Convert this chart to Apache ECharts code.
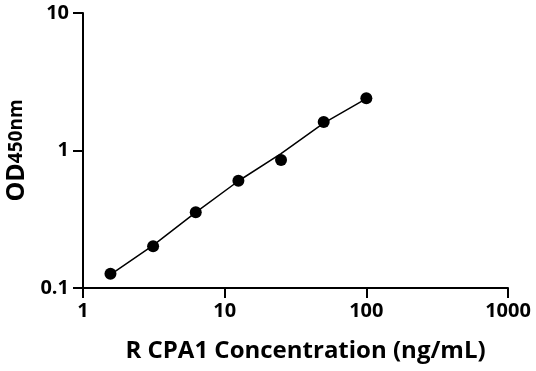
<!DOCTYPE html>
<html><head><meta charset="utf-8">
<script src="https://cdn.jsdelivr.net/npm/echarts@6/dist/echarts.min.js"></script>
<style>html,body{margin:0;padding:0;background:#fff}#c{width:536px;height:371px}</style>
</head><body><div id="c"></div>
<script>
const concentrations = [1.5625, 3.125, 6.25, 12.5, 25, 50, 100];
const odValues = [0.127, 0.201, 0.355, 0.603, 0.853, 1.61, 2.40];
const fitValues = [0.125, 0.204, 0.355, 0.600, 0.95, 1.58, 2.38];
const xTicks = [1, 10, 100, 1000];
const yTicks = [0.1, 1, 10];
const xTitle = 'R CPA1 Concentration (ng/mL)';

const FONT = '"Open Sans", sans-serif';
const chart = echarts.init(document.getElementById('c'));
chart.setOption({
  animation: false,
  grid: {left: 83, right: 28, top: 13, bottom: 83, containLabel: false, outerBoundsMode: 'none'},
  xAxis: {
    type: 'log', logBase: 10, min: xTicks[0], max: xTicks[xTicks.length-1],
    name: xTitle, nameLocation: 'middle', nameGap: 51,
    nameTextStyle: {fontFamily: FONT, fontWeight: 'bold', fontSize: 24, color: '#000', padding: [0,0,0,20]},
    axisLine: {lineStyle: {color: '#000', width: 2}},
    axisTick: {length: 10, lineStyle: {color: '#000', width: 2}},
    minorTick: {show: false},
    axisLabel: {fontFamily: FONT, fontWeight: 'bold', fontSize: 20, color: '#000', margin: 13,
      formatter: v => String(v)},
    splitLine: {show: false}
  },
  yAxis: {
    type: 'log', logBase: 10, min: yTicks[0], max: yTicks[yTicks.length-1],
    name: '{a|OD}{b|450nm}', nameLocation: 'middle', nameGap: 52, nameRotate: 90,
    nameTextStyle: {rich: {
      a: {fontFamily: FONT, fontWeight: 'bold', fontSize: 25, color: '#000'},
      b: {fontFamily: FONT, fontWeight: 'bold', fontSize: 19, color: '#000'}
    }},
    axisLine: {show: true, lineStyle: {color: '#000', width: 2}},
    axisTick: {show: true, length: 10, lineStyle: {color: '#000', width: 2}},
    axisLabel: {fontFamily: FONT, fontWeight: 'bold', fontSize: 20, color: '#000', margin: 14,
      formatter: v => String(v)},
    splitLine: {show: false}
  },
  series: [
    {type: 'line', data: concentrations.map((c,i)=>[c, fitValues[i]]), smooth: false, symbol: 'none',
     lineStyle: {color: '#000', width: 1.5}, z: 2},
    {type: 'scatter', data: concentrations.map((c,i)=>[c, odValues[i]]), symbolSize: 12,
     itemStyle: {color: '#000', opacity: 1}, z: 3}
  ]
});
</script></body></html>
